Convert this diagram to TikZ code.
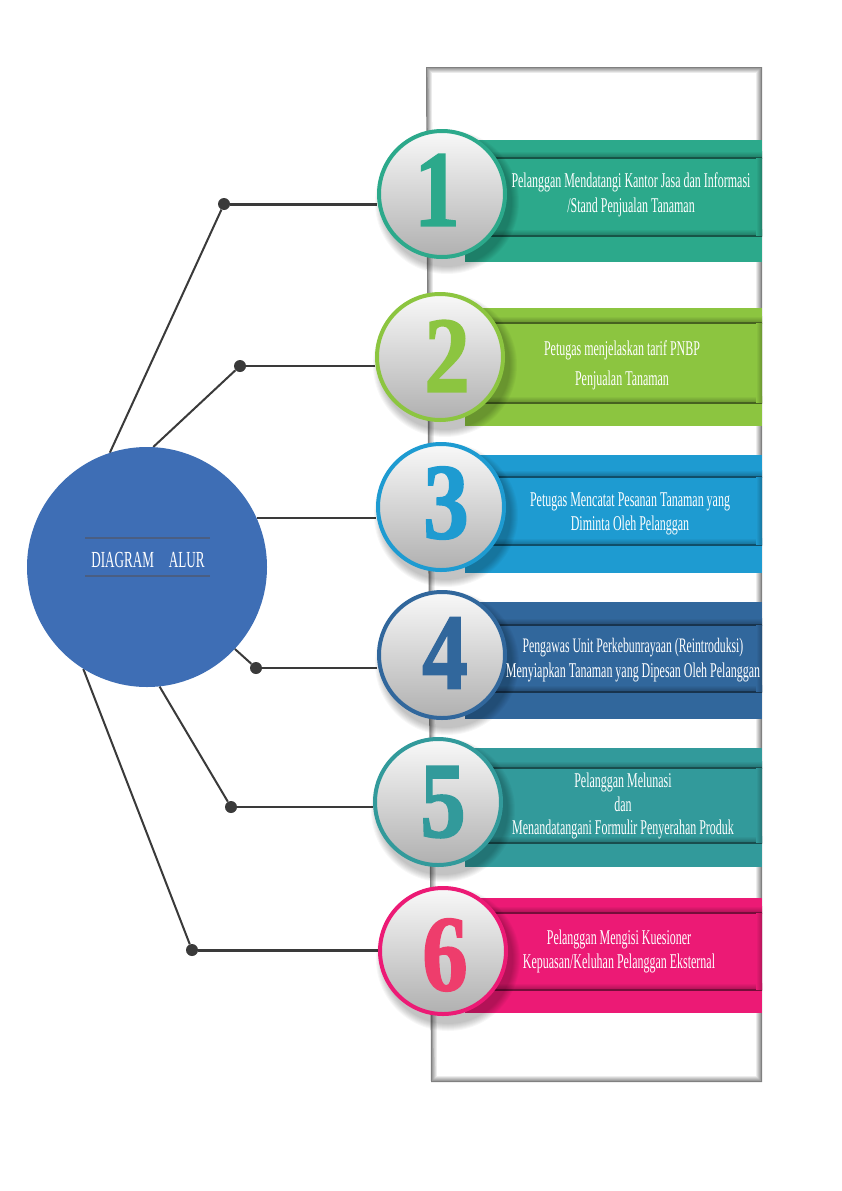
\documentclass[tikz,border=0pt]{standalone}
\usepackage{fontspec}
\setmainfont{Liberation Serif}
\newfontfamily\cond{Liberation Serif}[FakeStretch=0.57]
\newfontfamily\numf{Liberation Serif Bold}[FakeStretch=0.84,FakeBold=1.6]
\usetikzlibrary{calc}
\definecolor{cA}{HTML}{2CA98B}
\definecolor{cB}{HTML}{8CC540}
\definecolor{cC}{HTML}{1E9BD1}
\definecolor{cD}{HTML}{31679C}
\definecolor{cE}{HTML}{329A9B}
\definecolor{cF}{HTML}{EC1A75}
\definecolor{numF}{HTML}{EE3D6C}
\definecolor{hubC}{HTML}{3E6EB5}
\definecolor{ruleC}{HTML}{4A5E82}
\definecolor{lineC}{HTML}{3A3A3A}
\pgfdeclarelayer{back}
\pgfdeclarelayer{bg}
\pgfsetlayers{back,bg,main}
\tikzset{
  stepcirc/.style={circle, minimum size=126pt, inner sep=0pt, line width=4pt, top color=gray!5, bottom color=gray!62},
  numtext/.style={font=\numf\fontsize{108}{108}\selectfont, inner sep=0pt},
  steptext/.style={font=\cond\fontsize{21}{#1}\selectfont, text=white, align=center, inner sep=0pt},
  steptext/.default=25,
  conn/.style={draw=lineC, line width=2pt},
  connthick/.style={draw=lineC, line width=3pt},
  dotnode/.style={circle, fill=lineC, minimum size=12pt, inner sep=0pt},
}
\newcommand\stepband[5]{%
  \fill[#1] (465,#2) rectangle (762,#5);
  \shade[top color=#1, bottom color=#1!70!black] (465,#3-7) rectangle (762,#3);
  \fill[#1!50!black] (465,#3-0.8) rectangle (762,#3+0.8);
  \shade[top color=#1, bottom color=#1!70!black] (465,#4-7) rectangle (762,#4);
  \fill[#1!50!black] (465,#4-0.8) rectangle (762,#4+0.8);
  \shade[left color=#1, right color=#1!75!black] (756,#3+0.8) rectangle (762,#4-0.8);
}
\newcommand\circshadow[2]{%
  \foreach \k in {0,...,7}{\fill[black,opacity=0.03] (#1+5,#2+8) circle (72-\k);}
}
\begin{document}
\begin{tikzpicture}[x=1pt,y=-1pt]
\useasboundingbox (0,0) rectangle (842,1191);
\begin{pgfonlayer}{back}
\fill[white] (0,0) rectangle (842,1191);
\end{pgfonlayer}
% panel
\foreach \d/\g in {0/50,1.2/38,2.4/26,3.6/16,4.8/8,6/0}{
  \fill[black!\g] (426+\d,67+\d) -- (762-\d,67+\d) -- (762-\d,1082-\d) -- (431+\d,1082-\d) -- cycle;
}
% bands
\stepband{cA}{140}{158}{236}{262}
\stepband{cB}{308}{323}{403}{426}
\stepband{cC}{455}{477}{545}{573}
\stepband{cD}{602}{625}{692}{719}
\stepband{cE}{748}{768}{843}{867}
\stepband{cF}{898}{913}{990}{1013}
% shadows
\circshadow{442}{194}
\circshadow{440}{357}
\circshadow{441}{507}
\circshadow{442}{655}
\circshadow{438}{802}
\circshadow{443}{951}
% step circles
\node[stepcirc, draw=cA] (s1) at (442,194) {};
\node[stepcirc, draw=cB] (s2) at (440,357) {};
\node[stepcirc, draw=cC] (s3) at (441,507) {};
\node[stepcirc, draw=cD] (s4) at (442,655) {};
\node[stepcirc, draw=cE] (s5) at (438,802) {};
\node[stepcirc, draw=cF] (s6) at (443,951) {};
% numbers
\node[numtext, text=cA] (n1) at (437,190) {1};
\node[numtext, text=cB] (n2) at (447,356) {2};
\node[numtext, text=cC] (n3) at (446,503) {3};
\node[numtext, text=cD] (n4) at (445,653) {4};
\node[numtext, text=cE] (n5) at (443,802) {5};
\node[numtext, text=numF] (n6) at (445,955) {6};
% texts
\node[steptext] (t1) at (631,195) {Pelanggan Mendatangi Kantor Jasa dan Informasi\\/Stand Penjualan Tanaman};
\node[steptext=30] (t2) at (622,365) {Petugas menjelaskan tarif PNBP\\Penjualan Tanaman};
\node[steptext=24] (t3) at (630,514) {Petugas Mencatat Pesanan Tanaman yang\\Diminta Oleh Pelanggan};
\node[steptext] (t4) at (633,660) {\fontsize{20.6}{25}\selectfont Pengawas Unit Perkebunrayaan (Reintroduksi)\\Menyiapkan Tanaman yang Dipesan Oleh Pelanggan};
\node[steptext=23.5] (t5) at (623,806) {Pelanggan Melunasi\\dan\\Menandatangani Formulir Penyerahan Produk};
\node[steptext=24] (t6) at (619,951) {Pelanggan Mengisi Kuesioner\\Kepuasan/Keluhan Pelanggan Eksternal};
% hub
\node[circle, fill=hubC, minimum size=240pt, inner sep=0pt] (hub) at (147,567) {};
\draw[ruleC, line width=1.5pt] ($(hub.center)+(-62,-29)$) coordinate (r1a) -- ++(125,0) coordinate (r1b);
\draw[ruleC, line width=1.5pt] ($(hub.center)+(-62,9)$) coordinate (r2a) -- ++(125,0) coordinate (r2b);
\node[font=\cond\fontsize{23}{23}\selectfont, text=white, inner sep=0pt] (hubtext) at ($(hub.center)+(1,-7)$) {DIAGRAM\hspace{15pt}ALUR};
% dots
\node[dotnode] (d1) at (224,204) {};
\node[dotnode] (d2) at (240,366) {};
\node[dotnode] (d4) at (256,668) {};
\node[dotnode] (d5) at (231,807) {};
\node[dotnode] (d6) at (192,950) {};
% connectors
\begin{pgfonlayer}{bg}
\draw[conn] (hub.108) -- (d1);
\draw[connthick] (d1) -- (d1 -| s1.west);
\draw[conn] (hub.87) -- (d2);
\draw[conn] (d2) -- (d2 -| s2.west);
\draw[conn] (hub.24) -- (hub.24 -| s3.west);
\draw[conn] (hub.-43) -- (d4);
\draw[conn] (d4) -- (d4 -| s4.west);
\draw[conn] (hub.-84) -- (d5);
\draw[conn] (d5) -- (d5 -| s5.west);
\draw[conn] (hub.-122) -- (d6);
\draw[connthick] (d6) -- (d6 -| s6.west);
\end{pgfonlayer}
\end{tikzpicture}
\end{document}
